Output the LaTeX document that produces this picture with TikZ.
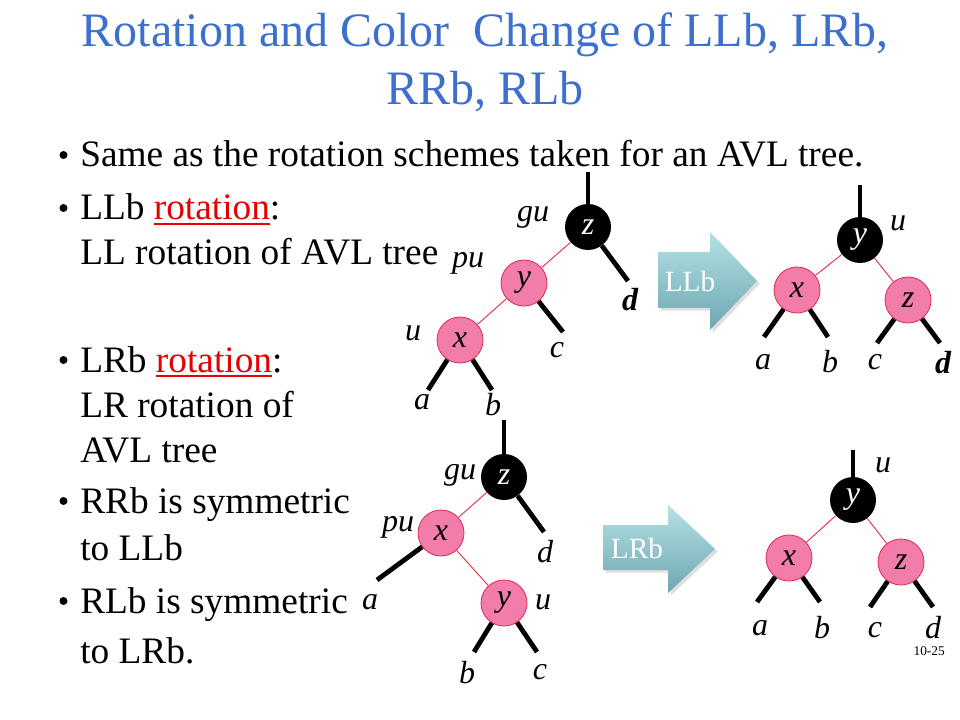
\documentclass[tikz,border=0pt]{standalone}
\usepackage{fontspec}
\setmainfont{Liberation Serif}
\usetikzlibrary{shadows}
\definecolor{titleblue}{RGB}{61,112,204}
\definecolor{nodepink}{RGB}{242,124,170}
\definecolor{nodeborder}{RGB}{225,40,80}
\definecolor{edgered}{RGB}{235,50,70}
\definecolor{ulred}{RGB}{230,0,0}
\definecolor{arrtop}{RGB}{180,226,230}
\definecolor{arrbot}{RGB}{110,166,176}
\newcommand\redul[1]{\setbox0\hbox{#1}\rlap{\rule[-3.75pt]{\wd0}{1.5pt}}\box0}
\begin{document}
\begin{tikzpicture}[x=0.75pt,y=-0.75pt,
  rednode/.style={circle,fill=nodepink,draw=nodeborder,line width=0.6pt,minimum size=34.5pt,inner sep=0pt,font=\fontsize{24}{24}\selectfont\itshape},
  blacknode/.style={circle,fill=black,minimum size=34.5pt,inner sep=0pt,text=white,font=\fontsize{24}{24}\selectfont\itshape},
  lab/.style={font=\fontsize{24}{24}\selectfont\itshape,inner sep=0pt},
  blab/.style={font=\fontsize{24}{24}\selectfont\bfseries\itshape,inner sep=0pt},
  subtree/.style={line width=3.6pt},
  rededge/.style={edgered,line width=0.7pt},
  body/.style={anchor=base west,inner sep=0pt,font=\fontsize{28}{28}\selectfont},
  bullet/.style={fill=black},
  bigarrow/.style={top color=arrtop,bottom color=arrbot,drop shadow={opacity=0.25,shadow xshift=2pt,shadow yshift=-2pt}},
  arrlabel/.style={text=white,font=\fontsize{22}{22}\selectfont,inner sep=0pt}
]
\useasboundingbox (0,0) rectangle (960,720);
\fill[white] (0,0) rectangle (960,720);

% Title
\node[anchor=base,font=\fontsize{36}{36}\selectfont,text=titleblue,inner sep=0pt] (title1) at (485,47) {Rotation and Color\ \ Change of LLb, LRb,};
\node[anchor=base,font=\fontsize{36}{36}\selectfont,text=titleblue,inner sep=0pt] (title2) at (485,105) {RRb, RLb};

% Body text
\fill[bullet] (63.5,155) circle (3pt);
\node[body] (l1) at (80,167) {Same as the rotation\ schemes taken for an AVL tree.};
\fill[bullet] (63.5,208) circle (3pt);
\node[body] (l2) at (80,220) {LLb \textcolor{ulred}{\redul{rotation}}:};
\node[body] (l3) at (80,265) {LL rotation of AVL tree};
\fill[bullet] (63.5,360) circle (3pt);
\node[body] (l4) at (80,372) {LRb \textcolor{ulred}{\redul{rotation}}:};
\node[body] (l5) at (80,417) {LR rotation of};
\node[body] (l6) at (80,462) {AVL tree};
\fill[bullet] (63.5,501) circle (3pt);
\node[body] (l7) at (80,513) {RRb is symmetric};
\node[body] (l8) at (80,560) {to LLb};
\fill[bullet] (63.5,601) circle (3pt);
\node[body] (l9) at (80,613) {RLb is symmetric};
\node[body] (l10) at (80,663) {to LRb.};

% Tree 1 (LLb before)
\node[blacknode] (t1z) at (588,227) {z};
\node[rednode] (t1y) at (524,283) {y};
\node[rednode] (t1x) at (460,340) {x};
\coordinate (t1top) at (588,172);
\coordinate (t1d) at (628,281);
\coordinate (t1c) at (563,332);
\coordinate (t1a) at (428,390);
\coordinate (t1b) at (492,390);
\draw[subtree] (t1top) -- (t1z);
\draw[subtree] (t1z) -- (t1d);
\draw[subtree] (t1y) -- (t1c);
\draw[subtree] (t1x) -- (t1a);
\draw[subtree] (t1x) -- (t1b);
\draw[rededge] (t1z) -- (t1y);
\draw[rededge] (t1y) -- (t1x);
\node[lab] (t1gu) at (533,217) {gu};
\node[lab] (t1pu) at (468,263) {pu};
\node[lab] (t1u) at (413,333) {u};
\node[blab] (t1dl) at (630,300) {d};
\node[lab] (t1cl) at (557,350) {c};
\node[lab] (t1al) at (422,402) {a};
\node[lab] (t1bl) at (493,405) {b};

% Arrow LLb
\path[bigarrow] (658,252) -- (710,252) -- (710,232) -- (757,281) -- (710,330) -- (710,308) -- (658,308) -- cycle;
\node[arrlabel] (llb) at (690,281) {LLb};

% Tree 2 (LLb after)
\node[blacknode] (t2y) at (860,240) {y};
\node[rednode] (t2x) at (797,290) {x};
\node[rednode] (t2z) at (908,300) {z};
\coordinate (t2top) at (860,185);
\coordinate (t2a) at (764,337);
\coordinate (t2b) at (828,337);
\coordinate (t2c) at (877,343);
\coordinate (t2d) at (940,343);
\draw[subtree] (t2top) -- (t2y);
\draw[subtree] (t2x) -- (t2a);
\draw[subtree] (t2x) -- (t2b);
\draw[subtree] (t2z) -- (t2c);
\draw[subtree] (t2z) -- (t2d);
\draw[rededge] (t2y) -- (t2x);
\draw[rededge] (t2y) -- (t2z);
\node[lab] (t2u) at (898,223) {u};
\node[lab] (t2al) at (763,362) {a};
\node[lab] (t2bl) at (830,362) {b};
\node[lab] (t2cl) at (875,362) {c};
\node[blab] (t2dl) at (943,363) {d};

% Tree 3 (LRb before)
\node[blacknode] (t3z) at (504,477) {z};
\node[rednode] (t3x) at (441,533) {x};
\node[rednode] (t3y) at (504,603) {y};
\coordinate (t3top) at (504,420);
\coordinate (t3d) at (544,532);
\coordinate (t3a) at (377,580);
\coordinate (t3b) at (474,652);
\coordinate (t3c) at (537,652);
\draw[subtree] (t3top) -- (t3z);
\draw[subtree] (t3z) -- (t3d);
\draw[subtree] (t3x) -- (t3a);
\draw[subtree] (t3y) -- (t3b);
\draw[subtree] (t3y) -- (t3c);
\draw[rededge] (t3z) -- (t3x);
\draw[rededge] (t3x) -- (t3y);
\node[lab] (t3gu) at (460,475) {gu};
\node[lab] (t3pu) at (398,527) {pu};
\node[lab] (t3dl) at (545,552) {d};
\node[lab] (t3al) at (370,602) {a};
\node[lab] (t3u) at (543,602) {u};
\node[lab] (t3bl) at (467,673) {b};
\node[lab] (t3cl) at (540,672) {c};

% Arrow LRb
\path[bigarrow] (603,525) -- (668,525) -- (668,505) -- (715,549) -- (668,593) -- (668,570) -- (603,570) -- cycle;
\node[arrlabel] (lrb) at (637,548) {LRb};

% Tree 4 (LRb after)
\node[blacknode] (t4y) at (853,500) {y};
\node[rednode] (t4x) at (789,558) {x};
\node[rednode] (t4z) at (901,562) {z};
\coordinate (t4top) at (853,450);
\coordinate (t4a) at (757,602);
\coordinate (t4b) at (820,602);
\coordinate (t4c) at (870,607);
\coordinate (t4d) at (933,607);
\draw[subtree] (t4top) -- (t4y);
\draw[subtree] (t4x) -- (t4a);
\draw[subtree] (t4x) -- (t4b);
\draw[subtree] (t4z) -- (t4c);
\draw[subtree] (t4z) -- (t4d);
\draw[rededge] (t4y) -- (t4x);
\draw[rededge] (t4y) -- (t4z);
\node[lab] (t4u) at (883,465) {u};
\node[lab] (t4al) at (760,628) {a};
\node[lab] (t4bl) at (822,628) {b};
\node[lab] (t4cl) at (875,630) {c};
\node[lab] (t4dl) at (933,628) {d};

% Page number
\node[anchor=base east,font=\fontsize{10}{10}\selectfont,inner sep=0pt] (pg) at (945,655) {10-25};
\end{tikzpicture}
\end{document}
